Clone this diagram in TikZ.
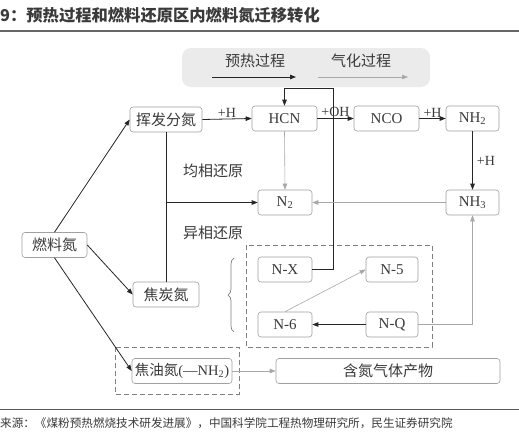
\documentclass[tikz,border=0pt]{standalone}
\usepackage{fontspec}
\setmainfont{Liberation Serif}
\newfontfamily\cjk{Noto Sans CJK SC}
\usetikzlibrary{arrows.meta,decorations.pathreplacing}
\definecolor{txt}{HTML}{3A3A3A}
\definecolor{bord}{HTML}{A0A0A0}
\definecolor{lgray}{HTML}{A8A8A8}
\begin{document}
\begin{tikzpicture}[x=1pt,y=-1pt,
  box/.style={draw=bord, rounded corners=3pt, line width=0.6pt, minimum height=25pt, inner sep=0pt, text=txt, font=\fontsize{15}{16}\selectfont},
  zh/.style={font=\cjk\fontsize{15}{16}\selectfont, text=txt},
  arr/.style={-{Triangle[length=6pt,width=4.5pt]}, line width=0.8pt, draw=black!85},
  garr/.style={-{Triangle[length=6pt,width=4.5pt]}, line width=0.6pt, draw=lgray},
  dbox/.style={draw=gray, dashed, dash pattern=on 5pt off 3pt, line width=0.8pt},
  lab/.style={font=\fontsize{14}{15}\selectfont, text=txt, inner sep=1pt}
]
\useasboundingbox (0,0) rectangle (519,442);
\fill[white] (0,0) rectangle (519,442);

% title
\node[anchor=west, inner sep=0pt, text=txt] (title) at (0,15) {\cjk\bfseries\fontsize{16.3}{17}\selectfont 9：预热过程和燃料还原区内燃料氮迁移转化};
\draw[line width=1.5pt, draw=gray!80!black] (0,31) -- (519,31);

% banner
\node[fill=gray!16, rounded corners=9pt, minimum width=248pt, minimum height=39pt, inner sep=0pt] (banner) at (306,67.5) {};
\node[zh] (pre) at (255,61) {预热过程};
\node[zh] (gasif) at (361,61) {气化过程};
\coordinate (a1) at (212,77); \coordinate (a2) at (296,77);
\coordinate (b1) at (318,77); \coordinate (b2) at (408,77);
\draw[arr] (a1) -- (a2);
\draw[garr] (b1) -- (b2);

% nodes
\node[box, minimum width=72pt, zh] (vol) at (166,119.5) {挥发分氮};
\node[box, minimum width=65pt] (hcn) at (284.5,118.5) {HCN};
\node[box, minimum width=65pt] (nco) at (386.5,118.5) {NCO};
\node[box, minimum width=53pt] (nh2) at (472.5,118.5) {NH\textsubscript{2}};
\node[box, minimum width=54pt] (n2) at (285,202.5) {N\textsubscript{2}};
\node[box, minimum width=53pt] (nh3) at (472.5,202.5) {NH\textsubscript{3}};
\node[box, minimum width=65pt, zh] (fuel) at (54.5,245) {燃料氮};
\node[box, minimum width=66pt, zh] (char) at (166,294.5) {焦炭氮};
\node[box, minimum width=100pt] (tar) at (182,371) {\cjk\fontsize{14.5}{15}\selectfont 焦油氮\fontspec{Liberation Serif}(—NH\textsubscript{2})};
\node[box, minimum width=54pt] (nx) at (285,269.5) {N-X};
\node[box, minimum width=52pt] (n5) at (392,269.5) {N-5};
\node[box, minimum width=54pt] (n6) at (285,324.5) {N-6};
\node[box, minimum width=52pt] (nq) at (392,324.5) {N-Q};
\node[box, minimum width=224pt, zh] (gas) at (388,371) {含氮气体产物};

% dashed groups
\draw[dbox] (246,245) rectangle (432,347);
\draw[dbox] (115,347) rectangle (239,394);
\draw[decorate, decoration={brace, amplitude=6pt}, draw=gray, line width=0.7pt] (234,332) -- (234,258);

% labels
\node[zh] (homo) at (213,171) {均相还原};
\node[zh] (hetero) at (213,233) {异相还原};

% connectors
\draw[arr] (fuel.north) -- (vol.west);
\draw[arr] (fuel.east) -- (char.west);
\draw[arr] (fuel.south) -- (tar.west);
\draw[arr] (vol.east) -- node[lab, above=0pt] {+H} (hcn.west);
\draw[line width=0.8pt, draw=black!85] (vol.south) -- (char.north);
\coordinate (br) at (vol.south |- n2.west);
\draw[arr] (br) -- (n2.west);
\draw[garr] (hcn.south) -- (n2.north);
\coordinate (loop) at (333,88);
\draw[arr] (nx.east) -| (loop) -| (hcn.north);
\draw[arr] (hcn.east) -- node[lab, above=0pt] {+OH} (nco.west);
\draw[arr] (nco.east) -- node[lab, above=0pt] {+H} (nh2.west);
\draw[arr] (nh2.south) -- node[lab, right=3pt] {+H} (nh3.north);
\draw[garr] (nh3.west) -- (n2.east);
\draw[garr] (nq.east) -| (nh3.south);
\draw[garr] (n6.north) -- (n5.west);
\draw[arr] (nq.west) -- (n6.east);
\draw[garr] (tar.east) -- (gas.west);

% source
\draw[line width=1pt, draw=gray!70!black] (0,409) -- (519,409);
\node[anchor=west, inner sep=0pt, text=txt] (src) at (0,423) {\cjk\fontsize{11.6}{12}\selectfont 来源：《煤粉预热燃烧技术研发进展》，中国科学院工程热物理研究所，民生证券研究院};
\end{tikzpicture}
\end{document}
